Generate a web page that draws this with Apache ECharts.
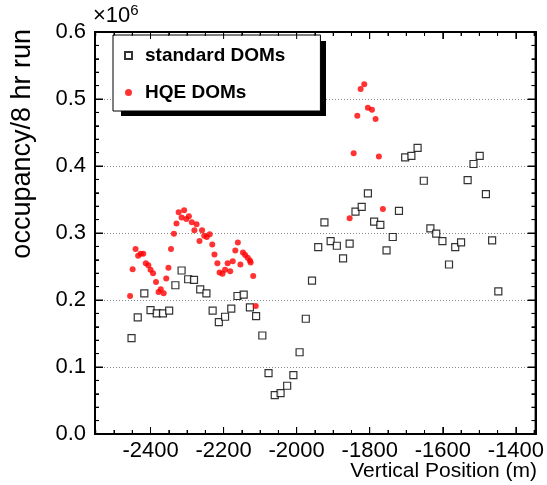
<!DOCTYPE html>
<html>
<head>
<meta charset="utf-8">
<script src="https://cdn.jsdelivr.net/npm/echarts@6/dist/echarts.min.js"></script>
<style>
  html, body { margin: 0; padding: 0; background: #fff; }
  #chart { width: 547px; height: 485px; }
</style>
</head>
<body>
<div id="chart"></div>
<script>
// occupancy per 8 hr run, in units of 10^6, vs vertical position (m)
var stdPos = [-2452, -2435, -2417, -2400, -2383, -2366, -2349, -2332, -2315, -2297,
    -2281, -2264, -2247, -2230, -2213, -2196, -2179, -2162, -2145, -2128,
    -2111, -2094, -2077, -2060, -2044, -2026, -2009, -1992, -1975, -1958,
    -1941, -1924, -1907, -1890, -1873, -1855, -1839, -1822, -1805, -1788,
    -1771, -1754, -1737, -1720, -1703, -1686, -1669, -1652, -1634, -1618,
    -1601, -1583, -1566, -1550, -1532, -1516, -1499, -1482, -1465, -1448];
var stdOcc = [0.143, 0.174, 0.210, 0.185, 0.180, 0.180, 0.184, 0.222, 0.244, 0.231,
    0.230, 0.216, 0.210, 0.184, 0.167, 0.175, 0.187, 0.206, 0.208, 0.189,
    0.176, 0.147, 0.091, 0.058, 0.061, 0.072, 0.088, 0.122, 0.172, 0.229,
    0.279, 0.316, 0.288, 0.281, 0.262, 0.284, 0.332, 0.339, 0.359, 0.317,
    0.312, 0.274, 0.294, 0.333, 0.413, 0.415, 0.427, 0.378, 0.307, 0.299,
    0.288, 0.253, 0.279, 0.286, 0.379, 0.403, 0.415, 0.358, 0.289, 0.213];

var hqePos = [-2456, -2449, -2441, -2434, -2427, -2420, -2413, -2406, -2400, -2393,
    -2385, -2378, -2372, -2364, -2357, -2351, -2344, -2336, -2329, -2323,
    -2315, -2308, -2302, -2295, -2287, -2280, -2274, -2266, -2259, -2253,
    -2246, -2238, -2231, -2225, -2217, -2211, -2203, -2196, -2189, -2182,
    -2175, -2168, -2161, -2154, -2147, -2141, -2134, -2128, -2126, -2119,
    -2112,
    -1855, -1844, -1834, -1825, -1815, -1805, -1794, -1784, -1775, -1764];
var hqeOcc = [0.206, 0.246, 0.276, 0.266, 0.269, 0.269, 0.255, 0.252, 0.245, 0.240,
    0.227, 0.212, 0.216, 0.210, 0.232, 0.248, 0.276, 0.299, 0.314, 0.331,
    0.323, 0.334, 0.321, 0.325, 0.316, 0.304, 0.313, 0.288, 0.304, 0.296,
    0.294, 0.298, 0.283, 0.268, 0.255, 0.241, 0.239, 0.245, 0.255, 0.243,
    0.258, 0.274, 0.286, 0.253, 0.271, 0.267, 0.263, 0.259, 0.256, 0.236,
    0.191,
    0.322, 0.419, 0.475, 0.515, 0.522, 0.487, 0.484, 0.470, 0.414, 0.336];

var xMajorTicks = [-2400, -2200, -2000, -1800, -1600, -1400];
var xMinorTicks = [-2550, -2500, -2450, -2350, -2300, -2250, -2150, -2100, -2050,
    -1950, -1900, -1850, -1750, -1700, -1650, -1550, -1500, -1450, -1350];
var yMajorTicks = [0, 0.1, 0.2, 0.3, 0.4, 0.5, 0.6];
var yMinorTicks = [0.02, 0.04, 0.06, 0.08, 0.12, 0.14, 0.16, 0.18, 0.22, 0.24, 0.26, 0.28,
    0.32, 0.34, 0.36, 0.38, 0.42, 0.44, 0.46, 0.48, 0.52, 0.54, 0.56, 0.58];

var font = "'Liberation Sans', Arial, Helvetica, sans-serif";

var myChart = echarts.init(document.getElementById('chart'));

function pairs(xs, ys) {
    var out = [];
    for (var i = 0; i < xs.length; i++) {
        out.push([xs[i], ys[i]]);
    }
    return out;
}

// x axis: bottom/top, major/minor ticks are separate axes on the same spot
function xAxisDef(position, ticks, len, withLabels, withLine) {
    return {
        type: 'value',
        position: position,
        min: -2552,
        max: -1346,
        splitLine: {show: false},
        axisLine: {show: withLine, onZero: false, lineStyle: {color: '#000', width: 2}},
        axisTick: {show: true, inside: true, length: len, customValues: ticks,
            lineStyle: {color: '#000', width: 1}},
        axisLabel: {show: withLabels, customValues: ticks, margin: 6,
            color: '#000', fontSize: 22, fontFamily: font,
            formatter: function (v) { return String(v); }}
    };
}

function yAxisDef(position, withLabels) {
    return {
        type: 'value',
        position: position,
        min: 0,
        max: 0.6,
        interval: 0.1,
        axisLine: {show: true, onZero: false, lineStyle: {color: '#000', width: 2}},
        axisTick: {show: true, inside: true, length: 8, lineStyle: {color: '#000', width: 1}},
        minorTick: {show: true, splitNumber: 5, length: 4, lineStyle: {color: '#000', width: 1}},
        splitLine: {show: withLabels, lineStyle: {color: '#888', width: 1, type: [1, 2]}},
        axisLabel: {show: withLabels, margin: 9, color: '#000', fontSize: 22, fontFamily: font,
            formatter: function (v) { return v.toFixed(1); }}
    };
}

var baseGraphic = [
    {   // legend box shadow
        type: 'rect',
        z: 3,
        shape: {x: 121, y: 41, width: 205, height: 75},
        style: {fill: '#000'}
    },
    {
        type: 'text',
        left: 93,
        top: 3,
        style: {
            text: '×10{sup|6}',
            font: '22px ' + font,
            fill: '#000',
            rich: {sup: {fontSize: 15, fontFamily: font, verticalAlign: 'top', padding: [0, 0, 10, 0]}}
        }
    },
    {
        type: 'text',
        x: 23,
        y: 29,
        rotation: Math.PI / 2,
        style: {
            text: 'occupancy/8 hr run',
            font: '27px ' + font,
            fill: '#000',
            align: 'right',
            verticalAlign: 'middle'
        }
    },
    {
        type: 'text',
        right: 10,
        top: 461,
        style: {
            text: 'Vertical Position (m)',
            font: '21px ' + font,
            fill: '#000'
        }
    }
];

var option = {
    backgroundColor: '#fff',
    animation: false,
    grid: {left: 95, right: 10, top: 32, bottom: 51},
    xAxis: [
        xAxisDef('bottom', xMajorTicks, 7, true, true),
        xAxisDef('bottom', xMinorTicks, 4, false, false),
        xAxisDef('top', xMajorTicks, 7, false, true),
        xAxisDef('top', xMinorTicks, 4, false, false)
    ],
    yAxis: [
        yAxisDef('left', true),
        yAxisDef('right', false)
    ],
    legend: {
        left: 113,
        top: 35,
        orient: 'vertical',
        selectedMode: false,
        backgroundColor: '#fff',
        borderColor: '#000',
        borderWidth: 1,
        padding: [11, 35, 9, 11],
        itemGap: 18,
        itemWidth: 7,
        itemHeight: 7,
        textStyle: {color: '#000', fontSize: 19, fontWeight: 'bold', fontFamily: font,
            padding: [0, 0, 0, 8]},
        data: [
            {name: 'standard DOMs', icon: 'rect'},
            {name: 'HQE DOMs', icon: 'circle'}
        ]
    },
    graphic: baseGraphic,
    series: [
        {
            name: 'standard DOMs',
            type: 'scatter',
            symbol: 'rect',
            symbolSize: 7,
            itemStyle: {color: '#fff', borderColor: '#000', borderWidth: 1.2},
            data: pairs(stdPos, stdOcc),
            z: 3
        },
        {
            name: 'HQE DOMs',
            type: 'scatter',
            symbol: 'circle',
            symbolSize: 6,
            itemStyle: {color: '#ff0000'},
            data: pairs(hqePos, hqeOcc),
            z: 4
        }
    ]
};

myChart.setOption(option);

// frame and inward ticks on all four sides, placed through the axes' own scales
function addFrame() {
    var xl = myChart.convertToPixel({xAxisIndex: 0}, -2552);
    var xr = myChart.convertToPixel({xAxisIndex: 0}, -1346);
    var yb = myChart.convertToPixel({yAxisIndex: 0}, 0);
    var yt = myChart.convertToPixel({yAxisIndex: 0}, 0.6);
    var els = [{
        type: 'rect', z: 10, silent: true,
        shape: {x: xl, y: yt, width: xr - xl, height: yb - yt},
        style: {fill: 'none', stroke: '#000', lineWidth: 2}
    }];
    function tick(a, b, c, d) {
        els.push({type: 'line', z: 10, silent: true,
            shape: {x1: a, y1: b, x2: c, y2: d},
            style: {stroke: '#000', lineWidth: 1}});
    }
    xMajorTicks.forEach(function (v) {
        var px = myChart.convertToPixel({xAxisIndex: 0}, v);
        tick(px, yb, px, yb - 7);
        tick(px, yt, px, yt + 7);
    });
    xMinorTicks.forEach(function (v) {
        var px = myChart.convertToPixel({xAxisIndex: 0}, v);
        tick(px, yb, px, yb - 4);
        tick(px, yt, px, yt + 4);
    });
    yMajorTicks.forEach(function (v) {
        var py = myChart.convertToPixel({yAxisIndex: 0}, v);
        tick(xl, py, xl + 8, py);
        tick(xr, py, xr - 8, py);
    });
    yMinorTicks.forEach(function (v) {
        var py = myChart.convertToPixel({yAxisIndex: 0}, v);
        tick(xl, py, xl + 4, py);
        tick(xr, py, xr - 4, py);
    });
    myChart.setOption({graphic: baseGraphic.concat(els)});
}
addFrame();
</script>
</body>
</html>
